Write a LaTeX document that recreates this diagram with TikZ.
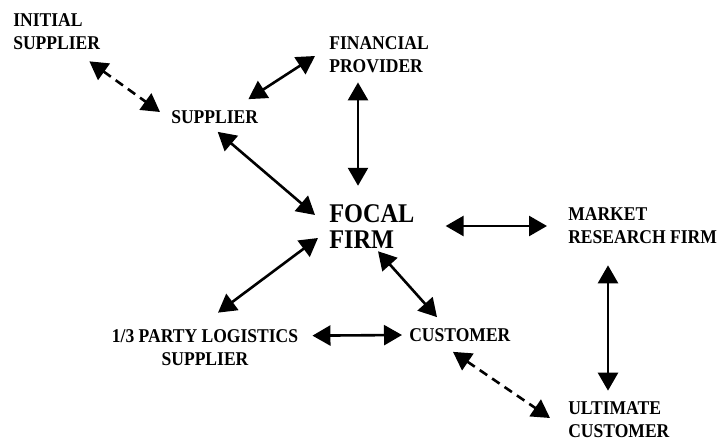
\documentclass[tikz,border=0pt]{standalone}
\usepackage{fontspec}
\setmainfont{Liberation Serif}[FakeStretch=0.9]
\usetikzlibrary{arrows.meta}

\tikzset{every picture/.style={line width=2.6pt}}
\tikzset{
  lbl/.style={inner sep=0pt,align=left,font=\fontsize{19.5}{23}\selectfont\bfseries},
  biarrow/.style={{Triangle[length=18pt,width=20pt]}-{Triangle[length=18pt,width=20pt]}},
  dasharrow/.style={biarrow,dash pattern={on 9pt off 6pt}}
}

\begin{document}
\begin{tikzpicture}[x=1pt,y=1pt,yscale=-1]
        \useasboundingbox (0,0) rectangle (718,439);
        \node (init) at (12,32) [lbl,anchor=west] {INITIAL\\SUPPLIER};
        \node (fin) at (328,55) [lbl,anchor=west] {FINANCIAL\\PROVIDER};
        \node (sup) at (170,117) [lbl,anchor=west] {SUPPLIER};
        \node (focal) at (328,227) [lbl,anchor=west,font=\fontsize{27}{26}\selectfont\bfseries] {FOCAL\\FIRM};
        \node (mkt) at (567,226) [lbl,anchor=west] {MARKET\\RESEARCH FIRM};
        \node (tpl) at (205,348) [lbl,align=center] {1/3 PARTY LOGISTICS\\SUPPLIER};
        \node (cust) at (408,335) [lbl,anchor=west] {CUSTOMER};
        \node (ult) at (567,420) [lbl,anchor=west] {ULTIMATE\\CUSTOMER};
        \draw [dasharrow] ([shift={(-12,10)}]init.south east) -- ([shift={(-10,-5)}]sup.west);
        \draw [biarrow] ([shift={(-11,-10)}]sup.north east) -- ([shift={(-13,1)}]fin.west);
        \draw [biarrow] ([shift={(30,8)}]fin.south west) -- ([shift={(30,-18)}]focal.north west);
        \draw [biarrow] ([shift={(3,7)}]sup.south) -- ([shift={(-13,-12)}]focal.west);
        \draw [biarrow] ([shift={(30,-1)}]focal.east) -- ([shift={(-20,0)}]mkt.west);
        \draw [biarrow] ([shift={(-10,11)}]focal.west) -- ([shift={(13,-16)}]tpl.north);
        \draw [biarrow] ([shift={(50,1)}]focal.south west) -- ([shift={(29,-10)}]cust.north west);
        \draw [biarrow] ([shift={(13,7)}]tpl.north east) -- ([shift={(-6,0)}]cust.west);
        \draw [dasharrow] ([shift={(45,9)}]cust.south west) -- ([shift={(-17,-2)}]ult.west);
        \draw [biarrow] ([shift={(41,20)}]mkt.south west) -- ([shift={(41,-10)}]ult.north west);
\end{tikzpicture}
\end{document}
